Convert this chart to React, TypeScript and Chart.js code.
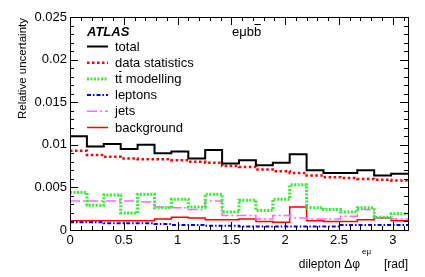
import { useEffect, useRef } from 'react';
import { Chart, registerables } from 'chart.js';

Chart.register(...registerables);

const X_MAX = Math.PI;
const BIN_COUNT = 20;
const Y_MAX = 0.025;

const total = [0.0110, 0.0098, 0.0101, 0.0095, 0.0100, 0.0090, 0.0092, 0.0084, 0.0094, 0.0078, 0.0082, 0.0076, 0.0079, 0.0089, 0.0070, 0.0067, 0.0067, 0.0070, 0.0064, 0.0066];
const dataStatistics = [0.0093, 0.0088, 0.0086, 0.0084, 0.0083, 0.0083, 0.0082, 0.0080, 0.0079, 0.0075, 0.0074, 0.0071, 0.0069, 0.0067, 0.0064, 0.0062, 0.0061, 0.0060, 0.0059, 0.0058];
const ttModelling = [0.0044, 0.0029, 0.0041, 0.0020, 0.0042, 0.0026, 0.0036, 0.0027, 0.0042, 0.0021, 0.0035, 0.0023, 0.0036, 0.0053, 0.0026, 0.0024, 0.0021, 0.0026, 0.0015, 0.0019];
const leptons = [0.0009, 0.0009, 0.0008, 0.0008, 0.0008, 0.0007, 0.0006, 0.0006, 0.0005, 0.0005, 0.0004, 0.0004, 0.0004, 0.0004, 0.0004, 0.0004, 0.0006, 0.0006, 0.0006, 0.0006];
const jets = [0.0034, 0.0034, 0.0034, 0.0034, 0.0033, 0.0027, 0.0026, 0.0024, 0.0034, 0.0017, 0.0017, 0.0013, 0.0017, 0.0014, 0.0013, 0.0013, 0.0016, 0.0024, 0.0014, 0.0013];
const background = [0.0011, 0.0011, 0.0011, 0.0011, 0.0011, 0.0013, 0.0015, 0.0014, 0.0012, 0.0012, 0.0013, 0.0010, 0.0009, 0.0027, 0.0011, 0.0010, 0.0010, 0.0012, 0.0014, 0.0011];

// '~' marks the character before it as overlined (anti-particle bar)
const seriesLabels = ['total', 'data statistics', 'tt~ modelling', 'leptons', 'jets', 'background'];
const xTickStep = 0.5;
const yTickStep = 0.005;
const xTitleMain = 'dilepton \u0394\u03c6';
const xTitleSup = 'e\u03bc';
const xTitleUnit = '[rad]';
const yTitle = 'Relative uncertainty';
const experiment = 'ATLAS';
const channel = 'e\u03bcbb~';

const FONT = '"Liberation Sans", Arial, Helvetica, sans-serif';

function toSteps(values: number[]) {
  const w = X_MAX / BIN_COUNT;
  const pts = values.map((v, i) => ({ x: i * w, y: v }));
  pts.push({ x: X_MAX, y: values[values.length - 1] });
  return pts;
}

function drawOverlined(ctx: CanvasRenderingContext2D, text: string, x: number, y: number) {
  let cx = x;
  const chars = Array.from(text);
  for (let i = 0; i < chars.length; i++) {
    const ch = chars[i];
    if (ch === '~') continue;
    ctx.fillText(ch, cx, y);
    const m = ctx.measureText(ch);
    const w = m.width;
    if (chars[i + 1] === '~') {
      const oy = Math.round(y - m.actualBoundingBoxAscent - 2.5);
      ctx.fillRect(cx + 0.5, oy, w - 1, 1);
    }
    cx += w;
  }
}

const framePlugin = {
  id: 'rootFrame',
  afterDraw(chart: any) {
    const ctx: CanvasRenderingContext2D = chart.ctx;
    const { left, right, top, bottom } = chart.chartArea;
    const xs = chart.scales.x;
    const ys = chart.scales.y;
    ctx.save();
    ctx.strokeStyle = '#000';
    ctx.fillStyle = '#000';
    ctx.lineWidth = 1;
    ctx.setLineDash([]);
    ctx.strokeRect(Math.round(left) + 0.5, Math.round(top) + 0.5, Math.round(right - left), Math.round(bottom - top));
    ctx.beginPath();
    for (let i = 0; i <= 40; i++) {
      const v = i * 0.1;
      if (v > X_MAX + 1e-9) break;
      const px = Math.round(xs.getPixelForValue(v)) + 0.5;
      const len = i % 5 === 0 ? 8 : 4;
      ctx.moveTo(px, bottom);
      ctx.lineTo(px, bottom - len);
      ctx.moveTo(px, top);
      ctx.lineTo(px, top + len);
    }
    for (let i = 0; i <= 25; i++) {
      const v = i * 0.001;
      const py = Math.round(ys.getPixelForValue(v)) + 0.5;
      const len = i % 5 === 0 ? 8 : 4;
      ctx.moveTo(left, py);
      ctx.lineTo(left + len, py);
      ctx.moveTo(right, py);
      ctx.lineTo(right - len, py);
    }
    ctx.stroke();

    // x-axis title, right aligned at the frame edge
    ctx.textBaseline = 'alphabetic';
    ctx.font = `12px ${FONT}`;
    ctx.textAlign = 'right';
    ctx.fillText(xTitleUnit, right, 268);
    ctx.fillText(xTitleMain, right - 48, 268);
    ctx.font = `8px ${FONT}`;
    ctx.textAlign = 'left';
    ctx.fillText(xTitleSup, right - 46, 254);

    // y-axis title, right aligned at the frame top
    ctx.save();
    ctx.translate(26, top + 1);
    ctx.rotate(-Math.PI / 2);
    ctx.font = `11.5px ${FONT}`;
    ctx.textAlign = 'right';
    ctx.fillText(yTitle, 0, 0);
    ctx.restore();

    // legend
    ctx.textBaseline = 'middle';
    ctx.textAlign = 'left';
    ctx.font = `italic bold 13px ${FONT}`;
    ctx.fillText(experiment, 87, 32);
    ctx.font = `13px ${FONT}`;
    drawOverlined(ctx, channel, 232, 32);
    const rowY0 = 46.5;
    const rowStep = 16.2;
    chart.data.datasets.forEach((ds: any, i: number) => {
      const y = rowY0 + i * rowStep;
      ctx.save();
      ctx.strokeStyle = ds.borderColor;
      ctx.lineWidth = ds.borderWidth;
      ctx.setLineDash(ds.borderDash || []);
      ctx.beginPath();
      ctx.moveTo(87, y);
      ctx.lineTo(108, y);
      ctx.stroke();
      ctx.restore();
      ctx.fillStyle = '#000';
      ctx.font = `13px ${FONT}`;
      drawOverlined(ctx, ds.label, 115, y + 0.5);
    });
    ctx.restore();
  },
};

export default function App() {
  const ref = useRef<HTMLCanvasElement>(null);
  useEffect(() => {
    if (!ref.current) return;
    const mk = (label: string, values: number[], color: string, width: number, dash: number[]) => ({
      label,
      data: toSteps(values),
      borderColor: color,
      backgroundColor: color,
      borderWidth: width,
      borderDash: dash,
      stepped: 'before' as const,
      pointRadius: 0,
      fill: false,
      tension: 0,
    });
    const chart = new Chart(ref.current, {
      type: 'line',
      data: {
        datasets: [
          mk(seriesLabels[0], total, '#000000', 2, []),
          mk(seriesLabels[1], dataStatistics, '#ff0000', 2.5, [2.5, 2.5]),
          mk(seriesLabels[2], ttModelling, '#33ee33', 3, [2, 1.5]),
          mk(seriesLabels[3], leptons, '#0000ff', 2, [4, 2, 1.5, 2]),
          mk(seriesLabels[4], jets, '#ff66ff', 1.5, [10, 3, 2, 3]),
          mk(seriesLabels[5], background, '#ff0000', 1.5, []),
        ] as any,
      },
      options: {
        animation: false,
        responsive: false,
        layout: { padding: { top: 17, right: 17, left: 0, bottom: 0 } },
        plugins: { legend: { display: false }, tooltip: { enabled: false } },
        scales: {
          x: {
            type: 'linear',
            min: 0,
            max: X_MAX,
            grid: { display: false, drawTicks: false },
            border: { display: false },
            ticks: {
              stepSize: xTickStep,
              includeBounds: false,
              color: '#000',
              font: { family: FONT, size: 13 },
              padding: 3,
              maxRotation: 0,
              callback: (v: any) => String(Math.round(Number(v) * 10) / 10),
            },
            afterFit: (s: any) => { s.height = 47; },
          },
          y: {
            type: 'linear',
            min: 0,
            max: Y_MAX,
            grid: { display: false, drawTicks: false },
            border: { display: false },
            ticks: {
              stepSize: yTickStep,
              color: '#000',
              font: { family: FONT, size: 13 },
              padding: 3,
              callback: (v: any) => String(Math.round(Number(v) * 1000) / 1000),
            },
            afterFit: (s: any) => { s.width = 70; },
          },
        },
      },
      plugins: [framePlugin],
    });
    return () => chart.destroy();
  }, []);
  return (
    <div style={{ position: 'fixed', left: 0, top: 0, width: 425, height: 277, background: '#fff' }}>
      <canvas ref={ref} width={425} height={277} />
    </div>
  );
}
